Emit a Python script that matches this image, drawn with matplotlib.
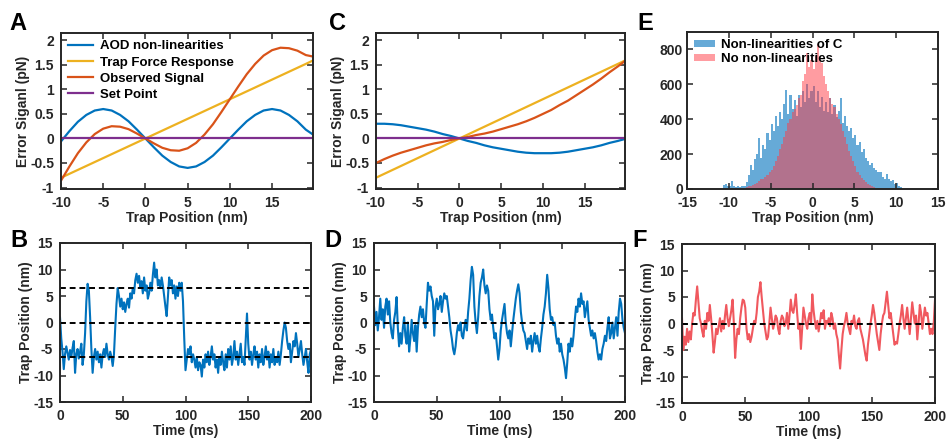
import numpy as np
import matplotlib
matplotlib.use("Agg")
from matplotlib import pyplot as plt

# ---- panels A and C: error signal curves, read every 1 nm ----
pos_nm = [-10, -9, -8, -7, -6, -5, -4, -3, -2, -1, 0, 1, 2, 3, 4, 5, 6, 7, 8, 9,
          10, 11, 12, 13, 14, 15, 16, 17, 18, 19, 19.85]

aod_a = [-0.06, 0.15, 0.34, 0.48, 0.57, 0.60, 0.57, 0.48, 0.35, 0.18, 0.0,
         -0.18, -0.35, -0.48, -0.57, -0.60, -0.57, -0.48, -0.35, -0.18, 0.0,
         0.18, 0.35, 0.48, 0.57, 0.60, 0.57, 0.48, 0.35, 0.18, 0.08]
trap_force = [-0.80, -0.72, -0.64, -0.56, -0.48, -0.40, -0.32, -0.24, -0.16, -0.08, 0.0,
              0.08, 0.16, 0.24, 0.32, 0.40, 0.48, 0.56, 0.64, 0.72, 0.80,
              0.88, 0.96, 1.04, 1.12, 1.20, 1.28, 1.36, 1.44, 1.52, 1.59]
observed_a = [-0.86, -0.57, -0.30, -0.08, 0.09, 0.20, 0.25, 0.24, 0.19, 0.10, 0.0,
              -0.10, -0.19, -0.24, -0.25, -0.20, -0.09, 0.08, 0.29, 0.54, 0.80,
              1.06, 1.31, 1.52, 1.69, 1.80, 1.85, 1.84, 1.79, 1.70, 1.67]
set_point = [0.0] * len(pos_nm)

aod_c = [0.30, 0.30, 0.29, 0.27, 0.24, 0.21, 0.18, 0.14, 0.09, 0.05, 0.0,
         -0.05, -0.09, -0.14, -0.18, -0.21, -0.24, -0.27, -0.29, -0.30, -0.30,
         -0.30, -0.29, -0.27, -0.24, -0.21, -0.18, -0.14, -0.09, -0.05, -0.01]
observed_c = [-0.50, -0.42, -0.35, -0.29, -0.24, -0.19, -0.14, -0.10, -0.07, -0.03, 0.0,
              0.03, 0.07, 0.10, 0.14, 0.19, 0.24, 0.29, 0.35, 0.42, 0.50,
              0.58, 0.68, 0.77, 0.88, 0.99, 1.10, 1.22, 1.35, 1.47, 1.58]

# ---- panels B, D, F: trap position traces, one value per ms ----
trace_b = [
    1.0, -3.0, -5.5, -8.8, -6.0, -4.5, -5.8, -7.0, -5.2, -6.5,
    -4.8, -3.5, -9.5, -6.0, -5.0, -6.8, -5.5, -4.0, -8.0, -6.0,
    -2.0, 4.0, 7.3, 6.0, 1.0, -5.0, -9.5, -6.5, -5.0, -7.0,
    -5.5, -7.5, -6.0, -8.5, -6.0, -5.0, -6.5, -4.0, -6.0, -7.0,
    -5.5, -6.5, -8.2, -6.0, -1.0, 3.5, 6.5, 5.0, 3.0, 4.5,
    2.5, 3.8, 2.0, 3.5, 4.5, 2.8, 5.5, 4.5, 6.5, 5.5,
    8.0, 9.2, 7.5, 8.8, 6.5, 7.8, 5.5, 8.5, 6.0, 7.0,
    4.5, 5.5, 7.5, 6.0, 9.0, 11.3, 8.5, 10.0, 7.0, 8.0,
    6.5, 8.5, 7.0, 5.0, 3.0, 1.2, 5.0, 8.5, 7.0, 8.0,
    5.5, 7.0, 4.5, 6.8, 5.0, 7.5, 6.0, 7.5, 4.0, -3.0,
    -9.0, -7.0, -5.0, -6.0, -4.5, -7.5, -6.0, -7.0, -8.5, -6.5,
    -9.0, -7.5, -8.0, -10.2, -7.0, -8.5, -6.0, -7.5, -5.5, -8.0,
    -6.5, -4.5, -7.0, -6.0, -8.5, -7.0, -9.5, -6.5, -8.0, -5.5,
    -7.5, -9.0, -6.0, -8.5, -5.0, -7.0, -4.5, -8.0, -6.5, -3.5,
    -7.0, -5.5, -8.0, -6.0, -4.0, -7.5, -6.5, -8.0, -3.0, 1.7,
    -4.0, -7.0, -5.5, -8.0, -6.0, -4.5, -7.0, -5.5, -8.5, -6.0,
    -7.5, -5.0, -8.0, -6.5, -4.5, -7.0, -5.5, -8.5, -6.0, -7.5,
    -5.0, -8.0, -6.5, -7.5, -5.5, -8.0, -6.0, -3.5, -1.5, 0.0,
    -1.0, -3.5, -5.0, -4.0, -7.5, -5.5, -3.5, -4.5, -2.0, -4.0,
    -6.5, -5.0, -3.5, -6.0, -8.0, -6.5, -5.0, -7.5, -9.5, -6.0,
    -5.0]
trace_d = [
    3.0, -0.5, 2.0, -1.5, 1.0, 4.5, 0.5, 2.5, -1.0, 3.0,
    4.5, 1.5, 4.0, 0.0, -2.0, -3.0, 0.5, 2.0, 4.8, -1.0,
    -4.5, -2.0, -4.0, -1.0, 1.0, -2.5, -4.0, 0.0, -5.5, -3.0,
    0.5, -2.0, -3.5, -0.5, -5.5, -1.0, 1.5, 3.0, 1.0, 2.5,
    0.0, -1.0, 3.5, 7.5, 6.0, 6.8, 5.0, 4.0, -2.5, 3.0,
    4.5, 2.5, 3.5, 5.0, 2.0, 4.0, 5.5, 4.5, 5.0, 3.0,
    1.0, -1.5, -3.0, -5.0, -6.0, -4.5, -2.0, -0.5, -1.5, 0.0,
    -2.5, -3.0, -1.0, 0.5, -1.5, 2.0, 4.5, 8.0, 10.5, 9.0,
    3.0, 0.0, -2.0, 1.0, 5.0, 7.5, 8.5, 10.0, 7.0, 5.5,
    7.0, 6.0, 2.5, 0.5, 1.5, -1.0, -3.0, -2.0, -4.5, -7.0,
    -5.0, -1.5, 0.5, 2.0, 3.5, 0.0, -2.0, -3.0, -1.5, -4.5,
    -2.0, 0.5, 2.5, 4.5, 6.0, 7.2, 5.5, 2.0, 0.0, -1.5,
    -2.0, -3.5, -5.0, -3.0, -4.0, -2.5, -5.5, -3.5, -2.0, -4.0,
    -2.5, -4.5, -5.5, -3.0, -1.0, 1.5, 3.0, 5.5, 9.0, 6.5,
    2.5, 0.5, 1.0, -0.5, 0.0, -2.5, -4.0, -3.0, -5.5, -4.0,
    -6.0, -7.0, -8.5, -10.5, -7.5, -4.0, -5.5, -3.0, -4.5, -2.5,
    0.5, 3.0, 2.0, 4.5, 3.0, 5.5, 3.5, 4.0, 1.0, 2.5,
    4.0, 0.5, -1.0, -2.5, -1.5, -3.0, -2.0, -3.5, -5.5, -7.0,
    -6.0, -7.0, -5.0, -4.0, -2.5, -3.5, -1.0, 1.0, -3.0, -2.0,
    0.0, -3.0, -1.0, 1.0, -2.5, 2.0, 4.5, 3.5, 0.5, -1.0,
    -2.0]
trace_f = [
    1.0, -5.0, -2.5, -4.0, -1.0, -3.5, -1.5, -3.0, 0.0, 2.0,
    1.5, 4.5, 7.0, 4.0, 1.0, 0.0, -1.5, -2.5, 0.5, -1.0,
    2.0, 0.5, 3.5, 1.0, -2.0, -5.5, -3.5, -1.0, -2.0, -0.5,
    1.0, -1.5, 0.5, -1.0, 1.5, 3.5, 1.0, -0.5, 1.0, 2.5,
    4.5, 0.0, -6.5, -3.0, -1.0, -2.0, 1.0, 3.0, 4.5, 4.3,
    3.0, -1.0, -3.0, -2.0, -3.5, -2.5, -1.0, 0.5, 0.0, 2.0,
    5.0, 6.0, 7.8, 5.0, 2.5, 0.0, -1.5, -3.0, -2.5, 0.0,
    3.0, 1.0, -1.0, 0.0, 1.5, 1.0, -1.0, -2.0, 0.5, 1.5,
    1.0, -0.5, 0.0, 2.0, -1.0, 1.5, 4.5, 2.5, 2.0, 3.5,
    5.5, 2.0, -1.0, 0.0, -4.8, -1.0, 3.0, 1.5, 0.0, -1.0,
    1.0, 2.0, 0.0, 5.5, 2.5, 0.5, -1.0, 0.5, -1.5, 0.0,
    2.0, 1.0, 2.5, -1.0, 0.5, 0.0, 1.0, -0.5, 2.0, 1.0,
    -1.0, 0.0, -2.0, -3.0, -6.0, -8.5, -5.0, -2.0, -0.5, 0.5,
    2.0, 0.0, -1.0, -2.0, 0.5, 0.0, 1.5, -0.5, -1.0, 0.5,
    1.0, -1.0, -2.0, -3.0, -4.5, -6.0, -7.0, -4.0, -2.0, 0.0,
    1.5, 3.5, 2.0, 0.0, -2.0, -3.5, -5.0, -2.0, 0.0, 1.5,
    2.0, 4.0, 6.0, 3.5, 1.0, 2.0, 0.0, -2.0, -4.0, -3.5,
    -3.8, -2.0, 0.0, 1.5, 3.5, 1.0, -1.0, 1.0, 3.0, 0.5,
    -2.0, 1.0, 4.0, 2.0, 0.0, 1.5, -3.0, 0.0, 3.5, 2.0,
    -1.0, 1.0, 3.0, 1.5, 2.0, 0.0, -2.0, -1.0, -2.0, 0.0,
    4.5]
levels_b = [6.5, 0.0, -6.5]
levels_df = [0.0]

# ---- panel E: histograms (0.25 nm bins) ----
bin_width = 0.25
blue_first_center = -10.625
counts_nonlin = [
    25, 30, 15, 20, 45, 15, 10, 15, 10, 20, 15, 40, 80, 140, 110, 170,
    200, 290, 180, 250, 230, 320, 280, 370, 330, 420, 360, 440, 400, 490,
    570, 430, 540, 460, 510, 420, 540, 470, 560, 500, 600, 520, 560, 590,
    500, 560, 470, 530, 450, 500, 440, 520, 430, 480, 410, 450, 520, 380,
    420, 360, 330, 350, 290, 310, 250, 270, 210, 230, 180, 160, 140, 150,
    120, 110, 95, 100, 70, 60, 85, 55, 45, 50, 30, 35, 20, 10]
red_first_center = -8.375
counts_lin = [
    5, 8, 10, 15, 20, 25, 30, 35, 45, 55, 60, 70, 80, 95, 110, 130,
    160, 190, 230, 260, 300, 330, 380, 400, 440, 460, 480, 520, 540, 620,
    660, 780, 700, 740, 690, 760, 830, 740, 720, 650, 600, 560, 520, 490,
    470, 430, 400, 370, 330, 300, 260, 220, 190, 160, 130, 100, 80, 65,
    50, 40, 30, 25, 18, 12, 8, 5, 3]

blue = "#0072BD"
orange = "#D95319"
yellow = "#EDB120"
purple = "#7E2F8E"
trace_red = "#F0585E"
dark = "#262626"

plt.rcParams["font.family"] = ["Liberation Sans", "DejaVu Sans"]
plt.rcParams["font.weight"] = "bold"
plt.rcParams["axes.labelweight"] = "bold"
plt.rcParams["axes.unicode_minus"] = False

W, H = 948, 441
fig = plt.figure(figsize=(W / 100, H / 100), dpi=100)


def add_axes(left, top, right, bottom):
    return fig.add_axes([left / W, 1 - bottom / H, (right - left) / W, (bottom - top) / H])


def style_axes(ax):
    ax.tick_params(direction="in", top=True, right=True, length=4, width=1.1,
                   labelsize=10, colors=dark, pad=5)
    for s in ax.spines.values():
        s.set_linewidth(1.4)
        s.set_color(dark)
    ax.xaxis.label.set_color(dark)
    ax.yaxis.label.set_color(dark)


def letter(x, y, txt):
    fig.text(x / W, 1 - y / H, txt, fontsize=17, fontweight="bold", ha="left", va="top")


# A
ax = add_axes(61, 33, 313, 189)
ax.plot(pos_nm, aod_a, color=blue, lw=1.6, label="AOD non-linearities")
ax.plot(pos_nm, trap_force, color=yellow, lw=1.6, label="Trap Force Response")
ax.plot(pos_nm, observed_a, color=orange, lw=1.6, label="Observed Signal")
ax.plot(pos_nm, set_point, color=purple, lw=1.6, label="Set Point")
ax.set_xlim(-10, 19.85)
ax.set_ylim(-1.03, 2.15)
ax.set_xticks([-10, -5, 0, 5, 10, 15])
ax.set_yticks([-1, -0.5, 0, 0.5, 1, 1.5, 2])
ax.set_yticklabels(["-1", "-0.5", "0", "0.5", "1", "1.5", "2"])
ax.set_xlabel("Trap Position (nm)", fontsize=10, labelpad=1)
ax.set_ylabel("Error Siganl (pN)", fontsize=10, labelpad=0)
ax.legend(loc="upper left", frameon=False, fontsize=9.5, handlelength=1.9,
          handletextpad=0.5, labelspacing=0.3, borderaxespad=0.15)
style_axes(ax)
letter(9, 12, "A")

# C
ax = add_axes(376, 33, 625, 189)
ax.plot(pos_nm, aod_c, color=blue, lw=1.6)
ax.plot(pos_nm, trap_force, color=yellow, lw=1.6)
ax.plot(pos_nm, observed_c, color=orange, lw=1.6)
ax.plot(pos_nm, set_point, color=purple, lw=1.6)
ax.set_xlim(-10, 19.85)
ax.set_ylim(-1.03, 2.15)
ax.set_xticks([-10, -5, 0, 5, 10, 15])
ax.set_yticks([-1, -0.5, 0, 0.5, 1, 1.5, 2])
ax.set_yticklabels(["-1", "-0.5", "0", "0.5", "1", "1.5", "2"])
ax.set_xlabel("Trap Position (nm)", fontsize=10, labelpad=1)
ax.set_ylabel("Error Siganl (pN)", fontsize=10, labelpad=0)
style_axes(ax)
letter(329, 12, "C")

# E
ax = add_axes(687, 32, 938, 189)
centers_b = blue_first_center + bin_width * np.arange(len(counts_nonlin))
centers_r = red_first_center + bin_width * np.arange(len(counts_lin))
ax.bar(centers_b, counts_nonlin, width=bin_width, color=blue, alpha=0.6,
       linewidth=0, label="Non-linearities of C")
ax.bar(centers_r, counts_lin, width=bin_width, color="#FF3B45", alpha=0.5,
       linewidth=0, label="No non-linearities")
ax.set_xlim(-15, 15)
ax.set_ylim(0, 900)
ax.set_xticks([-15, -10, -5, 0, 5, 10, 15])
ax.set_yticks([0, 200, 400, 600, 800])
ax.set_xlabel("Trap Position (nm)", fontsize=10, labelpad=1)
ax.legend(loc="upper left", frameon=False, fontsize=9.5, handlelength=1.6,
          handleheight=0.35, handletextpad=0.4, labelspacing=0.15,
          borderaxespad=0.15)
style_axes(ax)
ax.tick_params(axis="y", pad=3)
letter(637, 12, "E")

# B, D, F
time_ms = np.arange(len(trace_b))
for (l, t, r, b), trace, levels, col, lab in [
        ((60, 243, 311, 402), trace_b, levels_b, blue, "B"),
        ((374, 243, 625, 402), trace_d, levels_df, blue, "D"),
        ((682, 244, 935, 403), trace_f, levels_df, trace_red, "F")]:
    ax = add_axes(l, t, r, b)
    ax.plot(time_ms, trace, color=col, lw=1.5)
    for lv in levels:
        ax.axhline(lv, color="black", lw=1.4, ls=(0, (3, 2)))
    ax.set_xlim(0, 200)
    ax.set_ylim(-15, 15)
    ax.set_xticks([0, 50, 100, 150, 200])
    ax.set_yticks([-15, -10, -5, 0, 5, 10, 15])
    ax.set_xlabel("Time (ms)", fontsize=10, labelpad=1)
    ax.set_ylabel("Trap Position (nm)", fontsize=10, labelpad=0)
    style_axes(ax)
    letter(l - 50, 229, lab)

fig.savefig("out.png", dpi=100)
